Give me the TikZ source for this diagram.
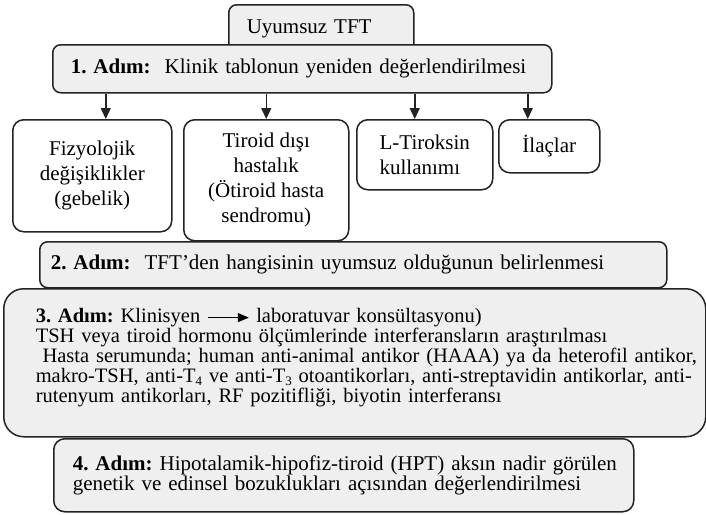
\documentclass[tikz,border=0pt]{standalone}
\usepackage{fontspec}
\setmainfont{Liberation Serif}
\usepackage{xcolor}
\usepackage{tikz}
\usetikzlibrary{arrows.meta}

\definecolor{boxgray}{RGB}{239,239,239}
\definecolor{edge}{RGB}{35,35,35}
\newcommand{\lowsub}[1]{\raisebox{-2.5pt}{\fontsize{13}{13}\selectfont #1}}
\frenchspacing

\begin{document}
\begin{tikzpicture}[
  x=1pt, y=-1pt,
  font=\fontsize{21}{25}\selectfont,
  base/.style={draw=edge, line width=1.5pt, anchor=north west, inner sep=0pt},
  stage/.style={base, fill=boxgray, rounded corners=8pt, align=left},
  cause/.style={base, fill=white, rounded corners=11pt, align=center},
  flow/.style={-{Triangle[length=11pt,width=10pt]}, draw=edge, line width=1.5pt}
]
\useasboundingbox (0,0) rectangle (706,514);
\node[stage, text width=149pt, inner xsep=18pt, minimum height=48pt] (t)  at (228,4)  {Uyumsuz TFT};
\node[stage, text width=463pt, inner xsep=18pt, minimum height=48pt] (s1) at (52,44)
  {\textbf{1. Adım:}\ \ Klinik tablonun yeniden değerlendirilmesi};
\node[cause, minimum width=159pt, minimum height=112pt] (a) at (12,119)  {Fizyolojik\\değişiklikler\\(gebelik)};
\node[cause, minimum width=165pt, minimum height=121pt] (b) at (183,119) {Tiroid dışı\\hastalık\\(Ötiroid hasta\\sendromu)};
\node[cause, align=left, minimum width=136pt, minimum height=70pt] (c) at (356,119) {L-Tiroksin\\kullanımı};
\node[cause, minimum width=101pt, minimum height=53pt]  (d) at (498,119) {İlaçlar};
\node[stage, text width=605pt, inner xsep=11pt, minimum height=46pt] (s2) at (39,241)
  {\textbf{2. Adım:}\ \ TFT’den hangisinin uyumsuz olduğunun belirlenmesi};
\node[stage, rounded corners=20pt, text width=638pt, inner xsep=32pt, minimum height=148pt,
      text depth=94.5pt, font=\fontsize{20.5}{20}\selectfont] (s3) at (3,288)
  {\mbox{\textbf{3. Adım:} Klinisyen \tikz[baseline=-5pt]\draw[line width=1.3pt,-{Triangle[length=11pt,width=9pt]}] (0pt,0pt) -- (41pt,0pt); laboratuvar konsültasyonu)}\\
   \mbox{TSH veya tiroid hormonu ölçümlerinde interferansların araştırılması}\\
   \mbox{\ Hasta serumunda; human anti-animal antikor (HAAA) ya da heterofil antikor,}\\
   \mbox{makro-TSH, anti-T\lowsub{4} ve anti-T\lowsub{3} otoantikorları, anti-streptavidin antikorlar, anti-}\\
   \mbox{rutenyum antikorları, RF pozitifliği, biyotin interferansı}};
\node[stage, rounded corners=11pt, text width=542pt, inner xsep=19pt, minimum height=73pt,
      font=\fontsize{21}{19}\selectfont] (s4) at (53,438)
  {\mbox{\textbf{4. Adım:} Hipotalamik-hipofiz-tiroid (HPT) aksın nadir görülen}\\
   \mbox{genetik ve edinsel bozuklukları açısından değerlendirilmesi}};
\draw[flow] ([xshift=13.5pt]a.north |- s1.south) -- ([xshift=13.5pt]a.north);
\draw[flow] (b.north |- s1.south) -- (b.north);
\draw[flow] ([xshift=-10pt]c.north |- s1.south) -- ([xshift=-10pt]c.north);
\draw[flow] ([xshift=-21.5pt]d.north |- s1.south) -- ([xshift=-21.5pt]d.north);
\end{tikzpicture}
\end{document}
